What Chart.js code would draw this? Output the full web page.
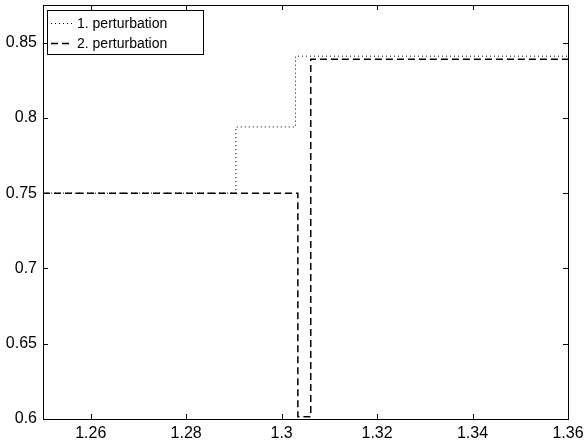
<!DOCTYPE html>
<html>
<head>
<meta charset="utf-8">
<script src="https://cdn.jsdelivr.net/npm/chart.js@4/dist/chart.umd.min.js"></script>
<style>
  html, body { margin: 0; padding: 0; background: #fff; }
  canvas { display: block; }
</style>
</head>
<body>
<canvas id="chart" width="584" height="447"></canvas>
<script>
// --- data ---
const labels = ['1. perturbation', '2. perturbation'];
// stepped series, each y holds from its x until the next x
const x1 = [1.25, 1.2904, 1.3029, 1.36];
const y1 = [0.75, 0.794, 0.841, 0.841];
const x2 = [1.25, 1.3034, 1.3061, 1.36];
const y2 = [0.75, 0.6015, 0.839, 0.839];

const xTicks = [1.26, 1.28, 1.30, 1.32, 1.34, 1.36];
const xTickLabels = ['1.26', '1.28', '1.3', '1.32', '1.34', '1.36'];
const yTicks = [0.6, 0.65, 0.7, 0.75, 0.8, 0.85];
const yTickLabels = ['0.6', '0.65', '0.7', '0.75', '0.8', '0.85'];

const FONT = 'Liberation Sans, Arial, Helvetica, sans-serif';

// frame + inward ticks on all four sides, matlab style
const framePlugin = {
  id: 'frame',
  afterDatasetsDraw(chart) {
    const { ctx, chartArea: a, scales } = chart;
    ctx.save();
    ctx.strokeStyle = '#000';
    ctx.lineWidth = 1;
    ctx.strokeRect(a.left + 0.5, a.top + 0.5, a.right - a.left, a.bottom - a.top);
    ctx.beginPath();
    xTicks.forEach(v => {
      const px = Math.round(scales.x.getPixelForValue(v)) + 0.5;
      ctx.moveTo(px, a.bottom); ctx.lineTo(px, a.bottom - 5);
      ctx.moveTo(px, a.top); ctx.lineTo(px, a.top + 5);
    });
    yTicks.forEach(v => {
      const py = Math.round(scales.y.getPixelForValue(v)) + 0.5;
      ctx.moveTo(a.left, py); ctx.lineTo(a.left + 5, py);
      ctx.moveTo(a.right, py); ctx.lineTo(a.right - 5, py);
    });
    ctx.stroke();
    ctx.restore();
  }
};

// boxed legend in the upper left corner
const legendPlugin = {
  id: 'boxLegend',
  afterDraw(chart) {
    const { ctx, chartArea: a } = chart;
    const bx = a.left + 4, by = a.top + 5, bw = 156, bh = 44;
    ctx.save();
    ctx.fillStyle = '#fff';
    ctx.fillRect(bx, by, bw, bh);
    ctx.strokeStyle = '#000';
    ctx.lineWidth = 1;
    ctx.strokeRect(bx + 0.5, by + 0.5, bw, bh);
    chart.data.datasets.forEach((ds, i) => {
      const cy = by + 13 + i * 20;
      ctx.beginPath();
      ctx.setLineDash(ds.borderDash);
      ctx.lineWidth = ds.borderWidth;
      ctx.moveTo(bx + 4, cy + 0.5);
      ctx.lineTo(bx + 26, cy + 0.5);
      ctx.stroke();
      ctx.setLineDash([]);
      ctx.fillStyle = '#000';
      ctx.font = '14px ' + FONT;
      ctx.textBaseline = 'middle';
      ctx.fillText(ds.label, bx + 30, cy + 1);
    });
    ctx.restore();
  }
};

new Chart(document.getElementById('chart'), {
  type: 'line',
  data: {
    datasets: [
      {
        label: labels[0],
        data: x1.map((x, i) => ({ x: x, y: y1[i] })),
        stepped: 'before',
        borderColor: '#000',
        borderWidth: 1,
        borderDash: [1, 3],
        pointRadius: 0,
        fill: false
      },
      {
        label: labels[1],
        data: x2.map((x, i) => ({ x: x, y: y2[i] })),
        stepped: 'before',
        borderColor: '#000',
        borderWidth: 1.5,
        borderDash: [7, 4],
        pointRadius: 0,
        fill: false
      }
    ]
  },
  options: {
    responsive: false,
    animation: false,
    layout: { autoPadding: false, padding: { left: 0, top: 5, right: 16, bottom: 0 } },
    plugins: { legend: { display: false }, tooltip: { enabled: false } },
    scales: {
      x: {
        type: 'linear',
        min: 1.25,
        max: 1.36,
        grid: { display: false },
        border: { display: false },
        afterBuildTicks: s => { s.ticks = xTicks.map(v => ({ value: v })); },
        afterFit: s => { s.height = 28; s.paddingLeft = 0; s.paddingRight = 0; },
        ticks: {
          color: '#000',
          font: { family: FONT, size: 16 },
          padding: -3,
          maxRotation: 0,
          autoSkip: false,
          callback: v => xTickLabels[xTicks.findIndex(t => Math.abs(t - v) < 1e-9)]
        }
      },
      y: {
        min: 0.6,
        max: 0.875,
        grid: { display: false },
        border: { display: false },
        afterBuildTicks: s => { s.ticks = yTicks.map(v => ({ value: v })); },
        afterFit: s => { s.width = 43; s.paddingTop = 0; s.paddingBottom = 0; },
        ticks: {
          color: '#000',
          font: { family: FONT, size: 16 },
          padding: -2,
          autoSkip: false,
          callback: v => yTickLabels[yTicks.findIndex(t => Math.abs(t - v) < 1e-9)]
        }
      }
    }
  },
  plugins: [framePlugin, legendPlugin]
});
</script>
</body>
</html>
